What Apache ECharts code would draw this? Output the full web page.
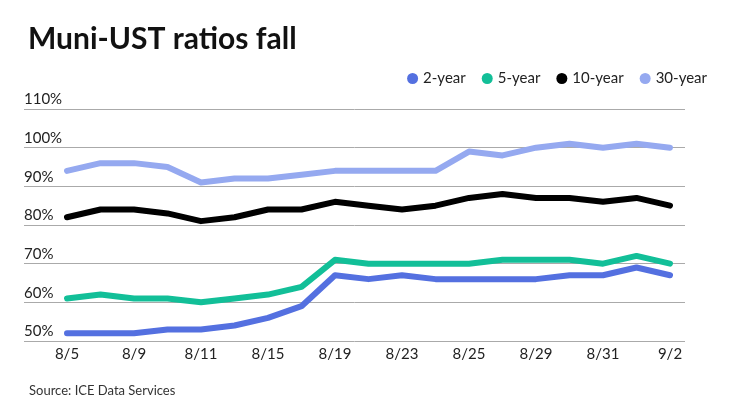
<!DOCTYPE html>
<html>
<head>
<meta charset="utf-8">
<script src="https://cdn.jsdelivr.net/npm/echarts@6/dist/echarts.min.js"></script>
<style>html,body{margin:0;padding:0;background:#fff}#c{width:740px;height:416px}</style>
</head>
<body>
<div id="c"></div>
<script>
const categories = ['8/5','8/8','8/9','8/10','8/11','8/12','8/15','8/17','8/19','8/22','8/23','8/24','8/25','8/26','8/29','8/30','8/31','9/1','9/2'];
const twoYear    = [52,52,52,53,53,54,56,59,67,66,67,66,66,66,66,67,67,69,67];
const fiveYear   = [61,62,61,61,60,61,62,64,71,70,70,70,70,71,71,71,70,72,70];
const tenYear    = [82,84,84,83,81,82,84,84,86,85,84,85,87,88,87,87,86,87,85];
const thirtyYear = [94,96,96,95,91,92,92,93,94,94,94,94,99,98,100,101,100,101,100];
const yTicks = [50,60,70,80,90,100,110];

const FONT = 'Lato, "Noto Sans", sans-serif';
const colors = ['#5470e0', '#12bf98', '#000000', '#95a9f0'];
const names = ['2-year','5-year','10-year','30-year'];
const datas = [twoYear, fiveYear, tenYear, thirtyYear];

const chart = echarts.init(document.getElementById('c'), null, {renderer: 'canvas'});
chart.setOption({
  backgroundColor: '#fff',
  animation: false,
  title: [{
    text: 'Muni-UST ratios fall', left: 23, top: 19,
    textStyle: {fontFamily: FONT, fontSize: 30, fontWeight: 'bold', color: '#111'}
  }, {
    text: 'Source: ICE Data Services', left: 24, top: 379,
    textStyle: {fontFamily: FONT, fontSize: 13, fontWeight: 'normal', color: '#333'}
  }],
  legend: {
    right: 28, top: 66, icon: 'circle', itemWidth: 11, itemHeight: 11, itemGap: 16,
    textStyle: {fontFamily: FONT, fontSize: 15, color: '#222'},
    data: names
  },
  grid: [
    {left: 24, right: 55, top: 109, bottom: 75},
    {left: 67, right: 70, top: 109, bottom: 75}
  ],
  xAxis: [
    {gridIndex: 0, type: 'value', min: 0, max: 1, show: false},
    {gridIndex: 1, type: 'category', data: categories, boundaryGap: false,
     axisLine: {show: false}, axisTick: {show: false},
     axisLabel: {interval: 1, fontFamily: FONT, fontSize: 15, color: '#222', margin: 6}}
  ],
  yAxis: [
    {gridIndex: 0, type: 'value', min: yTicks[0], max: yTicks[yTicks.length-1], interval: 10,
     axisLine: {show: false}, axisTick: {show: false},
     axisLabel: {inside: true, margin: 0, verticalAlign: 'bottom', padding: [0,0,2,0],
       fontFamily: FONT, fontSize: 15, color: '#222', formatter: v => v + '%'},
     splitLine: {lineStyle: {color: '#aaaaaa', width: 1}}},
    {gridIndex: 1, type: 'value', min: yTicks[0], max: yTicks[yTicks.length-1], interval: 10, show: false,
     splitLine: {show: false}}
  ],
  series: names.map((n, i) => ({
    name: n, type: 'line', xAxisIndex: 1, yAxisIndex: 1,
    data: datas[i], symbol: 'none', showSymbol: false,
    itemStyle: {color: colors[i]},
    lineStyle: {color: colors[i], width: 6, join: 'round', cap: 'round'}
  }))
});
</script>
</body>
</html>
